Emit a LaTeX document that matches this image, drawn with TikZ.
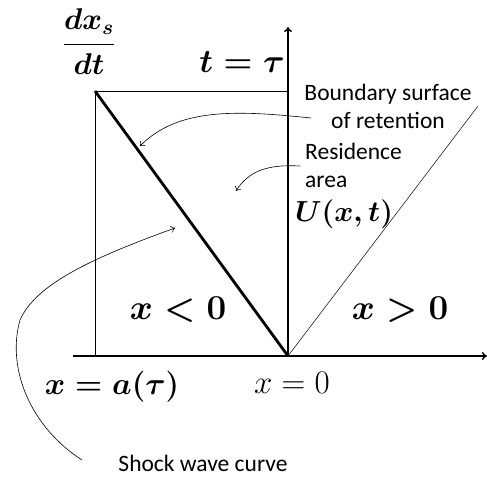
\RequirePackage{fix-cm}
\documentclass[tikz,border=0pt]{standalone}
\usepackage{amsmath}
\usepackage{fontspec}
\setmainfont{Carlito}
\usetikzlibrary{arrows.meta}
\begin{document}
\begin{tikzpicture}[x=1pt,y=-1pt,
  axis/.style={line width=1.5pt,-{To[length=5pt,width=8pt]}},
  thinline/.style={line width=0.5pt},
  pointer/.style={line width=0.6pt,-{To[length=4pt,width=7pt]}},
  shock/.style={line width=2.8pt},
  xmath/.style={inner sep=0pt,font=\fontsize{35}{42}\selectfont\boldmath},
  tmath/.style={inner sep=0pt,font=\fontsize{33}{40}\selectfont\boldmath},
  amath/.style={inner sep=0pt,font=\fontsize{31}{37}\selectfont\boldmath},
  umath/.style={inner sep=0pt,font=\fontsize{29}{35}\selectfont\boldmath},
  fmath/.style={inner sep=0pt,font=\fontsize{30}{36}\selectfont\boldmath},
  zmath/.style={inner sep=0pt,font=\fontsize{33}{40}\selectfont},
  label/.style={inner sep=0pt,font=\fontsize{23.5}{28}\selectfont,align=center}]
\useasboundingbox (0,0) rectangle (487,477);
% key points
\coordinate (O) at (288,356);
\coordinate (xl) at (73,356);
\coordinate (xr) at (487,356);
\coordinate (ttop) at (288,27);
\coordinate (A) at (95,91);
\coordinate (B) at (288,91);
\coordinate (Abot) at (95,356);
\coordinate (R) at (478,106);
% axes
\draw[axis] (xl) -- (xr);
\draw[axis] (O) -- (ttop);
% thin lines
\draw[thinline] (Abot) -- (A) -- (B);
\draw[thinline] (O) -- (R);
% shock line
\draw[shock] (A) -- (O);
% labels
\node[fmath] (dxdt) at (89,42) {$\dfrac{dx_s}{dt}$};
\node[tmath] (teq) at (242,62) {$t=\tau$};
\node[label] (bs) at (388,106) {Boundary surface\\of retention};
\node[label,align=left,anchor=north west] (ra) at (305,143) {Residence\\area};
\node[umath] (U) at (344,214) {$U(x,t)$};
\node[xmath] (xneg) at (178,310) {$x<0$};
\node[xmath] (xpos) at (400,310) {$x>0$};
\node[amath] (xa) at (112,387) {$x=a(\tau)$};
\node[zmath] (x0) at (292,383) {$x=0$};
\node[label] (sw) at (203,463) {Shock wave curve};
% pointers
\coordinate (p1s) at (311,118);
\coordinate (p1e) at (140,146);
\coordinate (p2s) at (300,166);
\coordinate (p2e) at (236,191);
\coordinate (p3s) at (82,460);
\coordinate (p3m) at (20,320);
\coordinate (p3e) at (175,228);
\draw[pointer] (p1s) .. controls (235,110) and (178,108) .. (p1e);
\draw[pointer] (p2s) .. controls (266,164) and (248,172) .. (p2e);
\draw[pointer] (p3s) .. controls (32,428) and (6,370) .. (p3m) .. controls (36,284) and (92,258) .. (p3e);
\end{tikzpicture}
\end{document}
